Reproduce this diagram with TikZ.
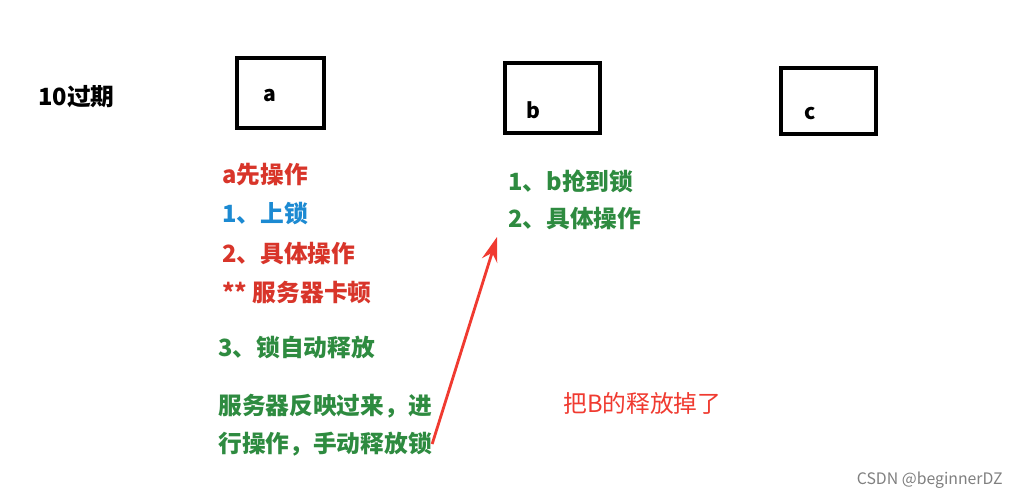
\documentclass[tikz,border=0pt]{standalone}
\usepackage{fontspec}
\setmainfont{Noto Sans CJK SC}
\newfontfamily\cjkb[BoldFont=*]{Noto Sans CJK SC Bold}
\usetikzlibrary{arrows.meta}
\definecolor{myred}{HTML}{D8352A}
\definecolor{myblue}{HTML}{1C8AD2}
\definecolor{mygreen}{HTML}{2E8B40}
\definecolor{annred}{HTML}{F03A30}
\begin{document}
\begin{tikzpicture}[x=0.02cm,y=-0.02cm,
  txt/.style={anchor=west,inner sep=0pt,font=\fontsize{13.5pt}{16pt}\selectfont\bfseries},
  box/.style={draw=black,line width=2.2pt,inner sep=0pt}]
\useasboundingbox[fill=white] (0,0) rectangle (1017,500);
\node[txt] (t10) at (38,97) {10过期};
\draw[line width=2.2pt] (237,58) rectangle (324,128);
\node[txt,font=\fontsize{12pt}{14pt}\selectfont\bfseries] (la) at (263,96) {a};
\draw[line width=2.2pt] (505,63) rectangle (600,133);
\node[txt,font=\fontsize{12pt}{14pt}\selectfont\bfseries] (lb) at (526,110) {b};
\draw[line width=2.2pt] (781,68) rectangle (876,134);
\node[txt,font=\fontsize{12pt}{14pt}\selectfont\bfseries] (lc) at (804,114) {c};
\node[txt,text=myred] (a1) at (222,175) {a先操作};
\node[txt,text=myblue] (a2) at (222,214) {1、上锁};
\node[txt,text=myred] (a3) at (222,254) {2、具体操作};
\node[txt,text=myred] (a4) at (222,293) {** 服务器卡顿};
\node[txt,text=mygreen] (a5) at (218,347) {3、锁自动释放};
\node[txt,text=mygreen] (a6) at (218,406) {服务器反映过来，进};
\node[txt,text=mygreen] (a7) at (218,444) {行操作，手动释放锁};
\node[txt,text=mygreen] (b1) at (508,181) {1、b抢到锁};
\node[txt,text=mygreen] (b2) at (508,219) {2、具体操作};
\node[anchor=west,inner sep=0pt,text=annred,font=\fontsize{13.5pt}{16pt}\selectfont] (ann) at (563,403) {把B的释放掉了};
\coordinate (tip) at (497,237);
\draw[annred,line width=1.6pt,-{Stealth[length=14pt,width=9pt]}] (a7.east) -- (tip);
\node[anchor=east,inner sep=0pt,text=gray,font=\fontsize{9pt}{11pt}\selectfont] (wm) at (1003,480) {CSDN @beginnerDZ};
\end{tikzpicture}
\end{document}
